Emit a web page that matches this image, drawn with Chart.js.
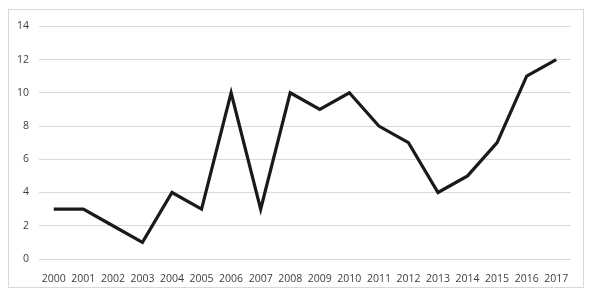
<!DOCTYPE html>
<html>
<head>
<meta charset="utf-8">
<script src="https://cdn.jsdelivr.net/npm/chart.js@4/dist/chart.umd.min.js"></script>
<style>
  body { margin: 0; background: #fff; }
  #box { position: absolute; left: 8px; top: 9px; width: 574px; height: 277px; border: 1px solid #d9d9d9; }
</style>
</head>
<body>
<div id="box"><canvas id="lineChart" width="574" height="277"></canvas></div>
<script>
const years = ['2000', '2001', '2002', '2003', '2004', '2005', '2006', '2007', '2008',
    '2009', '2010', '2011', '2012', '2013', '2014', '2015', '2016', '2017'];
const counts = [3, 3, 2, 1, 4, 3, 10, 3, 10, 9, 10, 8, 7, 4, 5, 7, 11, 12];
const yTicks = [0, 2, 4, 6, 8, 10, 12, 14];

const ctx = document.getElementById('lineChart').getContext('2d');
new Chart(ctx, {
    type: 'line',
    data: {
        labels: years,
        datasets: [{
            data: counts,
            borderColor: '#1a1a1a',
            borderWidth: 3.2,
            pointRadius: 0,
            tension: 0,
            fill: false
        }]
    },
    options: {
        responsive: false,
        animation: false,
        layout: { padding: { left: 0, right: 12, top: 1, bottom: 0 } },
        plugins: { legend: { display: false }, tooltip: { enabled: false } },
        scales: {
            x: {
                offset: true,
                grid: { display: false },
                border: { display: false },
                ticks: { color: '#404040', font: { family: 'Open Sans', size: 10.5 }, maxRotation: 0, autoSkip: false, padding: 6 },
                afterFit: function (scale) { scale.height = 28; }
            },
            y: {
                min: 0,
                max: 14,
                afterBuildTicks: function (scale) { scale.ticks = yTicks.map(v => ({ value: v })); },
                grid: { color: '#d9d9d9', lineWidth: 1, drawTicks: false },
                border: { display: false },
                ticks: { color: '#404040', font: { family: 'Open Sans', size: 10.5 }, padding: 10 },
                afterFit: function (scale) { scale.width = 30; }
            }
        }
    }
});
</script>
</body>
</html>
